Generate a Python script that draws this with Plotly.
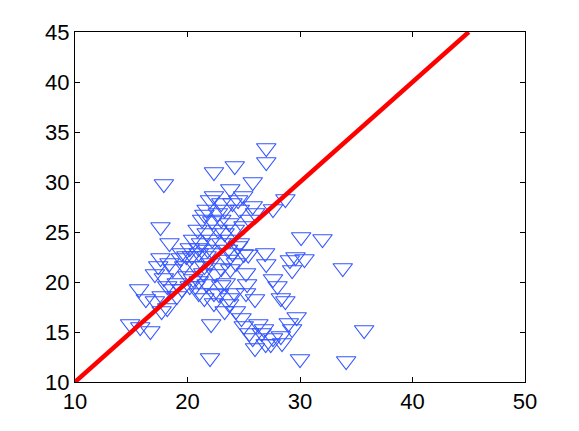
import plotly.graph_objects as go

# scatter points (x, y)
pts_x = [
    27.0, 27.0, 24.2, 22.35, 17.9, 25.8, 23.8, 28.7, 27.6, 17.6, 18.4, 30.1, 32.0, 33.8,
    30.4, 29.6, 29.1, 29.3, 15.7, 16.3, 14.9, 15.8, 16.7, 35.7, 22.1, 22.0, 30.0, 34.1,
    26.0, 27.4, 28.4, 29.7, 29.0, 28.7, 28.3, 27.6, 28.0, 27.0, 26.9, 26.6, 26.3, 24.8,
    24.3, 26.0, 25.2, 25.3, 25.2, 25.0, 24.5, 23.3, 22.35, 21.5, 22.8, 23.7, 23.0, 23.4,
    21.7, 21.0, 23.0, 23.8, 22.5, 22.0, 24.2, 23.7, 22.35, 28.3, 29.3, 26.8, 25.8, 25.0,
    25.5, 27.6, 26.95,
    17.6, 17.4, 17.1, 17.9, 18.4, 18.7, 19.05, 18.2, 17.7, 17.1, 18.2, 17.7, 19.4, 19.7,
    20.0, 19.5, 20.2, 19.05, 18.7, 20.7, 20.4, 21.0, 19.9, 20.5, 21.4,
    22.35, 22.0, 23.0, 21.7, 21.5, 22.7, 23.3, 24.0, 24.5, 24.95, 25.8, 26.0, 24.65, 23.0,
    23.7, 22.2, 21.3, 20.9, 21.7, 22.7, 23.3, 24.2, 24.98, 25.5, 20.5, 21.2, 22.2, 23.0,
    23.8, 24.65, 20.2, 21.0, 21.8, 22.35, 23.6, 19.5, 21.7, 21.5, 23.6, 24.0, 24.3, 21.0,
    20.7, 25.4,
]
pts_y = [
    33.4, 32.0, 31.6, 31.0, 29.8, 30.0, 29.3, 28.3, 27.3, 25.5, 23.9, 24.5, 24.3, 21.4,
    22.3, 22.5, 22.2, 21.2, 19.3, 18.3, 15.8, 15.5, 15.1, 15.2, 15.8, 12.4, 12.3, 12.1,
    13.4, 13.8, 13.9, 16.5, 15.9, 18.1, 18.4, 20.3, 19.6, 21.8, 22.9, 14.9, 15.8, 16.4,
    17.1, 18.3, 18.9, 19.8, 20.9, 22.8, 23.6, 17.1, 17.9, 18.4, 18.8, 18.4, 19.7, 19.9,
    19.8, 20.1, 21.4, 21.3, 20.8, 21.9, 18.9, 17.8, 18.9, 14.6, 15.3, 15.3, 14.4, 15.6,
    14.9, 14.4, 13.8,
    22.4, 21.6, 20.8, 20.4, 21.9, 21.3, 19.9, 19.6, 18.6, 18.1, 17.4, 17.1, 22.4, 21.6,
    20.6, 19.3, 19.6, 18.6, 19.3, 21.6, 22.6, 22.9, 22.6, 20.3, 20.9,
    28.6, 28.2, 27.9, 27.25, 26.75, 26.9, 27.25, 27.9, 28.2, 28.6, 27.6, 26.9, 27.25, 26.25,
    25.9, 26.1, 26.25, 25.25, 24.9, 25.25, 24.9, 25.25, 25.6, 26.25, 24.25, 23.9, 24.25, 23.9,
    24.25, 23.9, 23.4, 23.4, 23.25, 22.9, 23.25, 22.9, 22.6, 21.6, 22.25, 22.9, 21.9, 18.9,
    19.6, 22.75,
]

# reference line y = x
line_x = [10, 45]
line_y = [10, 45]

x_ticks = [10, 20, 30, 40, 50]
y_ticks = [10, 15, 20, 25, 30, 35, 40, 45]

fig = go.Figure()
fig.add_trace(go.Scatter(
    x=pts_x, y=pts_y, mode="markers",
    marker=dict(symbol="triangle-down-open", size=17, color="#3355ff",
                line=dict(width=1.1, color="#3355ff")),
    showlegend=False,
))
fig.add_trace(go.Scatter(
    x=line_x, y=line_y, mode="lines",
    line=dict(color="#ff0000", width=4.5), showlegend=False,
))

axis_common = dict(
    showgrid=False, zeroline=False, showline=True, linecolor="black", linewidth=1,
    mirror="ticks", ticks="inside", ticklen=5, tickcolor="black", automargin=False,
    tickfont=dict(family="Liberation Sans, Arial, sans-serif", size=22, color="black"),
)
fig.update_xaxes(range=[10, 50], tickvals=x_ticks, **axis_common)
fig.update_yaxes(range=[10, 45], tickvals=y_ticks, **axis_common)

# page body has an 8px margin, so the figure is drawn 8px in from the corner
fig.update_layout(
    width=571, height=423,
    margin=dict(l=67, r=54, t=24, b=49),
    plot_bgcolor="white", paper_bgcolor="white",
)
fig.write_html("out.html")
